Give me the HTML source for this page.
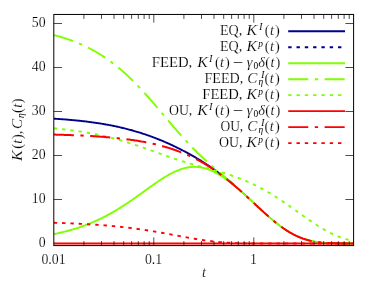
<!DOCTYPE html>
<html><head><meta charset="utf-8"><style>html,body{margin:0;padding:0;background:#fff}svg{display:block;will-change:transform}</style></head><body>
<svg width="380" height="285" viewBox="0 0 380 285">
<rect width="100%" height="100%" fill="#fff"/>
<clipPath id="c"><rect x="53.80" y="14.45" width="299.80" height="231.15"/></clipPath>
<g clip-path="url(#c)" fill="none" stroke-width="1.9">
<path d="M53.80,118.67 L54.70,118.73 L55.59,118.78 L56.49,118.84 L57.38,118.90 L58.28,118.96 L59.18,119.02 L60.07,119.08 L60.97,119.15 L61.87,119.21 L62.76,119.28 L63.66,119.35 L64.55,119.42 L65.45,119.49 L66.35,119.56 L67.24,119.63 L68.14,119.71 L69.04,119.78 L69.93,119.86 L70.83,119.94 L71.72,120.02 L72.62,120.10 L73.52,120.18 L74.41,120.27 L75.31,120.35 L76.20,120.44 L77.10,120.53 L78.00,120.62 L78.89,120.72 L79.79,120.81 L80.69,120.91 L81.58,121.01 L82.48,121.11 L83.37,121.21 L84.27,121.31 L85.17,121.42 L86.06,121.52 L86.96,121.63 L87.86,121.75 L88.75,121.86 L89.65,121.97 L90.54,122.09 L91.44,122.21 L92.34,122.33 L93.23,122.46 L94.13,122.58 L95.03,122.71 L95.92,122.84 L96.82,122.98 L97.71,123.11 L98.61,123.25 L99.51,123.39 L100.40,123.53 L101.30,123.68 L102.19,123.83 L103.09,123.98 L103.99,124.13 L104.88,124.28 L105.78,124.44 L106.68,124.60 L107.57,124.76 L108.47,124.93 L109.36,125.10 L110.26,125.27 L111.16,125.44 L112.05,125.62 L112.95,125.80 L113.85,125.98 L114.74,126.17 L115.64,126.36 L116.53,126.55 L117.43,126.74 L118.33,126.94 L119.22,127.14 L120.12,127.34 L121.01,127.55 L121.91,127.76 L122.81,127.97 L123.70,128.19 L124.60,128.41 L125.50,128.63 L126.39,128.86 L127.29,129.09 L128.18,129.32 L129.08,129.56 L129.98,129.80 L130.87,130.04 L131.77,130.29 L132.67,130.54 L133.56,130.79 L134.46,131.05 L135.35,131.31 L136.25,131.58 L137.15,131.84 L138.04,132.12 L138.94,132.39 L139.83,132.67 L140.73,132.95 L141.63,133.24 L142.52,133.53 L143.42,133.82 L144.32,134.12 L145.21,134.42 L146.11,134.72 L147.00,135.03 L147.90,135.34 L148.80,135.66 L149.69,135.98 L150.59,136.30 L151.49,136.63 L152.38,136.96 L153.28,137.30 L154.17,137.63 L155.07,137.98 L155.97,138.32 L156.86,138.67 L157.76,139.03 L158.65,139.39 L159.55,139.75 L160.45,140.11 L161.34,140.48 L162.24,140.86 L163.14,141.23 L164.03,141.61 L164.93,142.00 L165.82,142.39 L166.72,142.78 L167.62,143.18 L168.51,143.58 L169.41,143.98 L170.31,144.39 L171.20,144.80 L172.10,145.21 L172.99,145.63 L173.89,146.06 L174.79,146.49 L175.68,146.92 L176.58,147.35 L177.48,147.79 L178.37,148.23 L179.27,148.68 L180.16,149.13 L181.06,149.59 L181.96,150.05 L182.85,150.51 L183.75,150.98 L184.64,151.45 L185.54,151.92 L186.44,152.40 L187.33,152.89 L188.23,153.38 L189.13,153.87 L190.02,154.36 L190.92,154.86 L191.81,155.37 L192.71,155.88 L193.61,156.39 L194.50,156.91 L195.40,157.44 L196.30,157.96 L197.19,158.50 L198.09,159.03 L198.98,159.58 L199.88,160.12 L200.78,160.68 L201.67,161.23 L202.57,161.80 L203.46,162.36 L204.36,162.94 L205.26,163.51 L206.15,164.10 L207.05,164.68 L207.95,165.28 L208.84,165.88 L209.74,166.48 L210.63,167.09 L211.53,167.71 L212.43,168.33 L213.32,168.96 L214.22,169.59 L215.12,170.23 L216.01,170.88 L216.91,171.53 L217.80,172.19 L218.70,172.85 L219.60,173.52 L220.49,174.20 L221.39,174.88 L222.28,175.57 L223.18,176.26 L224.08,176.96 L224.97,177.67 L225.87,178.38 L226.77,179.10 L227.66,179.82 L228.56,180.55 L229.45,181.29 L230.35,182.03 L231.25,182.78 L232.14,183.53 L233.04,184.29" stroke="#00008b"/>
<path d="M231.62,183.09 L232.43,183.77 L233.24,184.46 L234.06,185.16 L234.87,185.86 L235.69,186.56 L236.50,187.27 L237.32,187.98 L238.13,188.70 L238.94,189.42 L239.76,190.14 L240.57,190.87 L241.39,191.60 L242.20,192.34 L243.01,193.07 L243.83,193.81 L244.64,194.56 L245.46,195.30 L246.27,196.05 L247.09,196.80 L247.90,197.55 L248.71,198.30 L249.53,199.06 L250.34,199.81 L251.16,200.57 L251.97,201.33 L252.79,202.09 L253.60,202.85 L254.41,203.61 L255.23,204.36 L256.04,205.12 L256.86,205.88 L257.67,206.64 L258.49,207.39 L259.30,208.14 L260.11,208.90 L260.93,209.64 L261.74,210.39 L262.56,211.14 L263.37,211.88 L264.19,212.61 L265.00,213.35 L265.81,214.08 L266.63,214.80 L267.44,215.52 L268.26,216.24 L269.07,216.95 L269.89,217.65 L270.70,218.35 L271.51,219.05 L272.33,219.73 L273.14,220.41 L273.96,221.08 L274.77,221.75 L275.59,222.40 L276.40,223.05 L277.21,223.69 L278.03,224.33 L278.84,224.95 L279.66,225.57 L280.47,226.17 L281.29,226.77 L282.10,227.35 L282.91,227.93 L283.73,228.49 L284.54,229.05 L285.36,229.59 L286.17,230.13 L286.99,230.65 L287.80,231.16 L288.61,231.66 L289.43,232.15 L290.24,232.63 L291.06,233.09 L291.87,233.55 L292.69,233.99 L293.50,234.42 L294.31,234.84 L295.13,235.25 L295.94,235.64 L296.76,236.02 L297.57,236.40 L298.39,236.75 L299.20,237.10 L300.01,237.44 L300.83,237.76 L301.64,238.07 L302.46,238.37 L303.27,238.66 L304.09,238.94 L304.90,239.21 L305.71,239.46 L306.53,239.71 L307.34,239.94 L308.16,240.16 L308.97,240.38 L309.79,240.58 L310.60,240.78 L311.41,240.96 L312.23,241.13 L313.04,241.30 L313.86,241.46 L314.67,241.61 L315.49,241.75 L316.30,241.88 L317.11,242.00 L317.93,242.12 L318.74,242.23 L319.56,242.33 L320.37,242.43 L321.19,242.52 L322.00,242.60 L322.81,242.68 L323.63,242.75 L324.44,242.82 L325.26,242.88 L326.07,242.94 L326.89,242.99 L327.70,243.04 L328.51,243.09 L329.33,243.13 L330.14,243.17 L330.96,243.20 L331.77,243.23 L332.59,243.26 L333.40,243.29 L334.21,243.31 L335.03,243.33 L335.84,243.35 L336.66,243.37 L337.47,243.39 L338.29,243.40 L339.10,243.41 L339.91,243.42 L340.73,243.43 L341.54,243.44 L342.36,243.45 L343.17,243.46 L343.99,243.46 L344.80,243.47 L345.61,243.47 L346.43,243.48 L347.24,243.48 L348.06,243.48 L348.87,243.49 L349.69,243.49 L350.50,243.49 L351.31,243.49 L352.13,243.49 L352.94,243.49 L353.76,243.49" stroke="#00008b" stroke-width="1.2"/>
<path d="M53.80,234.13 L54.70,233.94 L55.59,233.75 L56.49,233.56 L57.38,233.37 L58.28,233.17 L59.18,232.97 L60.07,232.76 L60.97,232.55 L61.87,232.34 L62.76,232.12 L63.66,231.90 L64.55,231.67 L65.45,231.45 L66.35,231.21 L67.24,230.97 L68.14,230.73 L69.04,230.49 L69.93,230.24 L70.83,229.98 L71.72,229.72 L72.62,229.46 L73.52,229.19 L74.41,228.92 L75.31,228.64 L76.20,228.36 L77.10,228.07 L78.00,227.78 L78.89,227.49 L79.79,227.19 L80.69,226.88 L81.58,226.57 L82.48,226.25 L83.37,225.93 L84.27,225.60 L85.17,225.27 L86.06,224.93 L86.96,224.59 L87.86,224.24 L88.75,223.89 L89.65,223.53 L90.54,223.17 L91.44,222.80 L92.34,222.42 L93.23,222.04 L94.13,221.65 L95.03,221.26 L95.92,220.86 L96.82,220.46 L97.71,220.05 L98.61,219.63 L99.51,219.21 L100.40,218.78 L101.30,218.35 L102.19,217.91 L103.09,217.46 L103.99,217.01 L104.88,216.55 L105.78,216.09 L106.68,215.62 L107.57,215.14 L108.47,214.66 L109.36,214.17 L110.26,213.68 L111.16,213.18 L112.05,212.67 L112.95,212.16 L113.85,211.64 L114.74,211.12 L115.64,210.59 L116.53,210.05 L117.43,209.51 L118.33,208.97 L119.22,208.42 L120.12,207.86 L121.01,207.30 L121.91,206.73 L122.81,206.16 L123.70,205.58 L124.60,205.00 L125.50,204.41 L126.39,203.82 L127.29,203.22 L128.18,202.62 L129.08,202.01 L129.98,201.40 L130.87,200.79 L131.77,200.17 L132.67,199.55 L133.56,198.92 L134.46,198.29 L135.35,197.66 L136.25,197.03 L137.15,196.39 L138.04,195.75 L138.94,195.11 L139.83,194.47 L140.73,193.82 L141.63,193.18 L142.52,192.53 L143.42,191.88 L144.32,191.23 L145.21,190.59 L146.11,189.94 L147.00,189.29 L147.90,188.64 L148.80,188.00 L149.69,187.35 L150.59,186.71 L151.49,186.07 L152.38,185.44 L153.28,184.80 L154.17,184.17 L155.07,183.55 L155.97,182.92 L156.86,182.31 L157.76,181.70 L158.65,181.09 L159.55,180.49 L160.45,179.90 L161.34,179.31 L162.24,178.73 L163.14,178.16 L164.03,177.60 L164.93,177.05 L165.82,176.51 L166.72,175.97 L167.62,175.45 L168.51,174.94 L169.41,174.44 L170.31,173.95 L171.20,173.47 L172.10,173.01 L172.99,172.56 L173.89,172.13 L174.79,171.70 L175.68,171.30 L176.58,170.91 L177.48,170.53 L178.37,170.17 L179.27,169.83 L180.16,169.50 L181.06,169.19 L181.96,168.90 L182.85,168.62 L183.75,168.37 L184.64,168.13 L185.54,167.91 L186.44,167.72 L187.33,167.54 L188.23,167.38 L189.13,167.24 L190.02,167.12 L190.92,167.03 L191.81,166.95 L192.71,166.90 L193.61,166.86 L194.50,166.85 L195.40,166.86 L196.30,166.89 L197.19,166.94 L198.09,167.01 L198.98,167.10 L199.88,167.22 L200.78,167.36 L201.67,167.52 L202.57,167.70 L203.46,167.90 L204.36,168.12 L205.26,168.36 L206.15,168.63 L207.05,168.91 L207.95,169.21 L208.84,169.54 L209.74,169.88 L210.63,170.24 L211.53,170.63 L212.43,171.03 L213.32,171.45 L214.22,171.89 L215.12,172.34 L216.01,172.81 L216.91,173.30 L217.80,173.81 L218.70,174.33 L219.60,174.87 L220.49,175.42 L221.39,175.99 L222.28,176.58 L223.18,177.17 L224.08,177.78 L224.97,178.41 L225.87,179.04 L226.77,179.69 L227.66,180.36 L228.56,181.03 L229.45,181.71 L230.35,182.41 L231.25,183.11 L232.14,183.83 L233.04,184.55" stroke="#7fff00"/>
<path d="M231.62,183.40 L232.43,184.06 L233.24,184.72 L234.06,185.38 L234.87,186.06 L235.69,186.74 L236.50,187.43 L237.32,188.12 L238.13,188.82 L238.94,189.53 L239.76,190.24 L240.57,190.95 L241.39,191.67 L242.20,192.40 L243.01,193.13 L243.83,193.86 L244.64,194.59 L245.46,195.33 L246.27,196.08 L247.09,196.82 L247.90,197.57 L248.71,198.32 L249.53,199.07 L250.34,199.83 L251.16,200.58 L251.97,201.34 L252.79,202.10 L253.60,202.85 L254.41,203.61 L255.23,204.37 L256.04,205.13 L256.86,205.88 L257.67,206.64 L258.49,207.39 L259.30,208.15 L260.11,208.90 L260.93,209.65 L261.74,210.39 L262.56,211.14 L263.37,211.88 L264.19,212.61 L265.00,213.35 L265.81,214.08 L266.63,214.80 L267.44,215.52 L268.26,216.24 L269.07,216.95 L269.89,217.65 L270.70,218.35 L271.51,219.05 L272.33,219.73 L273.14,220.41 L273.96,221.08 L274.77,221.75 L275.59,222.40 L276.40,223.05 L277.21,223.69 L278.03,224.33 L278.84,224.95 L279.66,225.57 L280.47,226.17 L281.29,226.77 L282.10,227.35 L282.91,227.93 L283.73,228.49 L284.54,229.05 L285.36,229.59 L286.17,230.13 L286.99,230.65 L287.80,231.16 L288.61,231.66 L289.43,232.15 L290.24,232.63 L291.06,233.09 L291.87,233.55 L292.69,233.99 L293.50,234.42 L294.31,234.84 L295.13,235.25 L295.94,235.64 L296.76,236.02 L297.57,236.40 L298.39,236.75 L299.20,237.10 L300.01,237.44 L300.83,237.76 L301.64,238.07 L302.46,238.37 L303.27,238.66 L304.09,238.94 L304.90,239.21 L305.71,239.46 L306.53,239.71 L307.34,239.94 L308.16,240.16 L308.97,240.38 L309.79,240.58 L310.60,240.78 L311.41,240.96 L312.23,241.13 L313.04,241.30 L313.86,241.46 L314.67,241.61 L315.49,241.75 L316.30,241.88 L317.11,242.00 L317.93,242.12 L318.74,242.23 L319.56,242.33 L320.37,242.43 L321.19,242.52 L322.00,242.60 L322.81,242.68 L323.63,242.75 L324.44,242.82 L325.26,242.88 L326.07,242.94 L326.89,242.99 L327.70,243.04 L328.51,243.09 L329.33,243.13 L330.14,243.17 L330.96,243.20 L331.77,243.23 L332.59,243.26 L333.40,243.29 L334.21,243.31 L335.03,243.33 L335.84,243.35 L336.66,243.37 L337.47,243.39 L338.29,243.40 L339.10,243.41 L339.91,243.42 L340.73,243.43 L341.54,243.44 L342.36,243.45 L343.17,243.46 L343.99,243.46 L344.80,243.47 L345.61,243.47 L346.43,243.48 L347.24,243.48 L348.06,243.48 L348.87,243.49 L349.69,243.49 L350.50,243.49 L351.31,243.49 L352.13,243.49 L352.94,243.49 L353.76,243.49" stroke="#7fff00" stroke-width="1.6"/>
<path d="M53.80,35.06 L54.80,35.32 L55.80,35.58 L56.80,35.85 L57.80,36.12 L58.80,36.40 L59.80,36.69 L60.80,36.98 L61.80,37.28 L62.80,37.58 L63.80,37.89 L64.80,38.20 L65.80,38.53 L66.80,38.85 L67.80,39.19 L68.80,39.53 L69.80,39.88 L70.80,40.24 L71.80,40.60 L72.80,40.97 L73.80,41.35 L74.80,41.74 L75.80,42.13 L76.80,42.53 L77.80,42.94 L78.80,43.36 L79.80,43.78 L80.80,44.22 L81.80,44.66 L82.80,45.11 L83.80,45.57 L84.80,46.04 L85.80,46.51 L86.80,47.00 L87.80,47.49 L88.79,48.00 L89.79,48.51 L90.79,49.03 L91.79,49.57 L92.79,50.11 L93.79,50.66 L94.79,51.22 L95.79,51.79 L96.79,52.37 L97.79,52.97 L98.79,53.57 L99.79,54.18 L100.79,54.81 L101.79,55.44 L102.79,56.09 L103.79,56.74 L104.79,57.41 L105.79,58.09 L106.79,58.77 L107.79,59.47 L108.79,60.19 L109.79,60.91 L110.79,61.64 L111.79,62.39 L112.79,63.14 L113.79,63.91 L114.79,64.69 L115.79,65.48 L116.79,66.29 L117.79,67.10 L118.79,67.93 L119.79,68.76 L120.79,69.61 L121.79,70.47 L122.79,71.35 L123.79,72.23 L124.79,73.12 L125.79,74.03 L126.79,74.95 L127.79,75.88 L128.79,76.82 L129.79,77.77 L130.79,78.73 L131.79,79.71 L132.79,80.69 L133.79,81.69 L134.79,82.69 L135.79,83.71 L136.79,84.73 L137.79,85.77 L138.79,86.81 L139.79,87.87 L140.79,88.93 L141.79,90.01 L142.79,91.09 L143.79,92.18 L144.79,93.28 L145.79,94.38 L146.79,95.50 L147.79,96.62 L148.79,97.75 L149.79,98.88 L150.79,100.03 L151.79,101.17 L152.79,102.33 L153.79,103.48 L154.79,104.65 L155.79,105.81 L156.79,106.99 L157.78,108.16 L158.78,109.34 L159.78,110.52 L160.78,111.70 L161.78,112.89 L162.78,114.07 L163.78,115.26 L164.78,116.44 L165.78,117.63 L166.78,118.82 L167.78,120.00 L168.78,121.18 L169.78,122.36 L170.78,123.54 L171.78,124.72 L172.78,125.89 L173.78,127.06 L174.78,128.22 L175.78,129.38 L176.78,130.53 L177.78,131.68 L178.78,132.82 L179.78,133.95 L180.78,135.08 L181.78,136.20 L182.78,137.31 L183.78,138.42 L184.78,139.52 L185.78,140.60 L186.78,141.68 L187.78,142.76 L188.78,143.82 L189.78,144.87 L190.78,145.92 L191.78,146.95 L192.78,147.97 L193.78,148.99 L194.78,150.00 L195.78,150.99 L196.78,151.98 L197.78,152.96 L198.78,153.93 L199.78,154.89 L200.78,155.84 L201.78,156.78 L202.78,157.72 L203.78,158.65 L204.78,159.56 L205.78,160.48 L206.78,161.38 L207.78,162.28 L208.78,163.17 L209.78,164.06 L210.78,164.94 L211.78,165.81 L212.78,166.68 L213.78,167.55 L214.78,168.42 L215.78,169.28 L216.78,170.13 L217.78,170.99 L218.78,171.84 L219.78,172.70 L220.78,173.55 L221.78,174.40 L222.78,175.25 L223.78,176.11 L224.78,176.96 L225.78,177.82 L226.77,178.67 L227.77,179.53 L228.77,180.39 L229.77,181.26 L230.77,182.13 L231.77,183.00 L232.77,183.87 L233.77,184.75 L234.77,185.63 L235.77,186.51 L236.77,187.40 L237.77,188.29 L238.77,189.19 L239.77,190.09 L240.77,191.00 L241.77,191.90 L242.77,192.81 L243.77,193.73 L244.77,194.65 L245.77,195.57 L246.77,196.49 L247.77,197.42 L248.77,198.34 L249.77,199.27 L250.77,200.20 L251.77,201.14 L252.77,202.07 L253.77,203.00 L254.77,203.93 L255.77,204.87 L256.77,205.80 L257.77,206.73 L258.77,207.65 L259.77,208.58 L260.77,209.50 L261.77,210.42 L262.77,211.33 L263.77,212.24 L264.77,213.14 L265.77,214.04 L266.77,214.93 L267.77,215.81 L268.77,216.69 L269.77,217.55 L270.77,218.41 L271.77,219.26 L272.77,220.10 L273.77,220.93 L274.77,221.74 L275.77,222.55 L276.77,223.34 L277.77,224.13 L278.77,224.89 L279.77,225.65 L280.77,226.39 L281.77,227.11 L282.77,227.82 L283.77,228.52 L284.77,229.20 L285.77,229.86 L286.77,230.51 L287.77,231.14 L288.77,231.75 L289.77,232.35 L290.77,232.93 L291.77,233.49 L292.77,234.03 L293.77,234.56 L294.77,235.07 L295.76,235.56 L296.76,236.03 L297.76,236.48 L298.76,236.92 L299.76,237.34 L300.76,237.74 L301.76,238.12 L302.76,238.48 L303.76,238.83 L304.76,239.16 L305.76,239.48 L306.76,239.78 L307.76,240.06 L308.76,240.32 L309.76,240.58 L310.76,240.81 L311.76,241.04 L312.76,241.24 L313.76,241.44 L314.76,241.62 L315.76,241.79 L316.76,241.95 L317.76,242.10 L318.76,242.23 L319.76,242.36 L320.76,242.47 L321.76,242.58 L322.76,242.68 L323.76,242.76 L324.76,242.85 L325.76,242.92 L326.76,242.99 L327.76,243.05 L328.76,243.10 L329.76,243.15 L330.76,243.19 L331.76,243.23 L332.76,243.27 L333.76,243.30 L334.76,243.33 L335.76,243.35 L336.76,243.37 L337.76,243.39 L338.76,243.41 L339.76,243.42 L340.76,243.43 L341.76,243.44 L342.76,243.45 L343.76,243.46 L344.76,243.47 L345.76,243.47 L346.76,243.48 L347.76,243.48 L348.76,243.49 L349.76,243.49 L350.76,243.49 L351.76,243.49 L352.76,243.49 L353.76,243.49" stroke="#7fff00" stroke-dasharray="20.1 6.5 3.3 6.5"/>
<path d="M53.80,128.37 L54.80,128.46 L55.80,128.55 L56.80,128.65 L57.80,128.75 L58.80,128.85 L59.80,128.95 L60.80,129.05 L61.80,129.16 L62.80,129.27 L63.80,129.38 L64.80,129.49 L65.80,129.61 L66.80,129.72 L67.80,129.84 L68.80,129.97 L69.80,130.09 L70.80,130.22 L71.80,130.35 L72.80,130.48 L73.80,130.61 L74.80,130.75 L75.80,130.89 L76.80,131.03 L77.80,131.18 L78.80,131.33 L79.80,131.48 L80.80,131.63 L81.80,131.79 L82.80,131.95 L83.80,132.11 L84.80,132.27 L85.80,132.44 L86.80,132.61 L87.80,132.79 L88.79,132.96 L89.79,133.15 L90.79,133.33 L91.79,133.52 L92.79,133.71 L93.79,133.90 L94.79,134.10 L95.79,134.30 L96.79,134.50 L97.79,134.70 L98.79,134.91 L99.79,135.13 L100.79,135.34 L101.79,135.56 L102.79,135.79 L103.79,136.02 L104.79,136.25 L105.79,136.48 L106.79,136.72 L107.79,136.96 L108.79,137.20 L109.79,137.45 L110.79,137.70 L111.79,137.96 L112.79,138.22 L113.79,138.48 L114.79,138.75 L115.79,139.02 L116.79,139.29 L117.79,139.56 L118.79,139.84 L119.79,140.13 L120.79,140.41 L121.79,140.70 L122.79,141.00 L123.79,141.29 L124.79,141.59 L125.79,141.90 L126.79,142.20 L127.79,142.51 L128.79,142.83 L129.79,143.14 L130.79,143.46 L131.79,143.78 L132.79,144.11 L133.79,144.43 L134.79,144.76 L135.79,145.09 L136.79,145.43 L137.79,145.77 L138.79,146.11 L139.79,146.45 L140.79,146.79 L141.79,147.14 L142.79,147.49 L143.79,147.83 L144.79,148.19 L145.79,148.54 L146.79,148.89 L147.79,149.25 L148.79,149.60 L149.79,149.96 L150.79,150.32 L151.79,150.68 L152.79,151.04 L153.79,151.40 L154.79,151.76 L155.79,152.12 L156.79,152.48 L157.78,152.84 L158.78,153.20 L159.78,153.56 L160.78,153.92 L161.78,154.28 L162.78,154.64 L163.78,154.99 L164.78,155.35 L165.78,155.70 L166.78,156.05 L167.78,156.41 L168.78,156.75 L169.78,157.10 L170.78,157.45 L171.78,157.79 L172.78,158.13 L173.78,158.47 L174.78,158.81 L175.78,159.14 L176.78,159.47 L177.78,159.80 L178.78,160.13 L179.78,160.45 L180.78,160.77 L181.78,161.09 L182.78,161.40 L183.78,161.72 L184.78,162.02 L185.78,162.33 L186.78,162.63 L187.78,162.93 L188.78,163.23 L189.78,163.53 L190.78,163.82 L191.78,164.11 L192.78,164.40 L193.78,164.68 L194.78,164.96 L195.78,165.24 L196.78,165.52 L197.78,165.80 L198.78,166.07 L199.78,166.35 L200.78,166.62 L201.78,166.89 L202.78,167.16 L203.78,167.43 L204.78,167.69 L205.78,167.96 L206.78,168.23 L207.78,168.50 L208.78,168.76 L209.78,169.03 L210.78,169.30 L211.78,169.57 L212.78,169.84 L213.78,170.12 L214.78,170.39 L215.78,170.67 L216.78,170.95 L217.78,171.23 L218.78,171.51 L219.78,171.80 L220.78,172.09 L221.78,172.38 L222.78,172.68 L223.78,172.98 L224.78,173.28 L225.78,173.59 L226.77,173.90 L227.77,174.22 L228.77,174.54 L229.77,174.87 L230.77,175.20 L231.77,175.54 L232.77,175.88 L233.77,176.23 L234.77,176.59 L235.77,176.95 L236.77,177.31 L237.77,177.68 L238.77,178.06 L239.77,178.45 L240.77,178.84 L241.77,179.23 L242.77,179.64 L243.77,180.05 L244.77,180.46 L245.77,180.89 L246.77,181.32 L247.77,181.75 L248.77,182.20 L249.77,182.65 L250.77,183.11 L251.77,183.57 L252.77,184.05 L253.77,184.53 L254.77,185.01 L255.77,185.51 L256.77,186.01 L257.77,186.52 L258.77,187.03 L259.77,187.55 L260.77,188.08 L261.77,188.62 L262.77,189.16 L263.77,189.71 L264.77,190.27 L265.77,190.84 L266.77,191.41 L267.77,191.99 L268.77,192.57 L269.77,193.17 L270.77,193.77 L271.77,194.37 L272.77,194.98 L273.77,195.60 L274.77,196.23 L275.77,196.86 L276.77,197.50 L277.77,198.14 L278.77,198.79 L279.77,199.44 L280.77,200.10 L281.77,200.76 L282.77,201.43 L283.77,202.11 L284.77,202.79 L285.77,203.47 L286.77,204.16 L287.77,204.85 L288.77,205.54 L289.77,206.24 L290.77,206.94 L291.77,207.64 L292.77,208.35 L293.77,209.06 L294.77,209.76 L295.76,210.48 L296.76,211.19 L297.76,211.90 L298.76,212.61 L299.76,213.33 L300.76,214.04 L301.76,214.75 L302.76,215.46 L303.76,216.17 L304.76,216.88 L305.76,217.58 L306.76,218.28 L307.76,218.98 L308.76,219.67 L309.76,220.36 L310.76,221.05 L311.76,221.73 L312.76,222.40 L313.76,223.07 L314.76,223.74 L315.76,224.39 L316.76,225.04 L317.76,225.68 L318.76,226.31 L319.76,226.94 L320.76,227.55 L321.76,228.16 L322.76,228.76 L323.76,229.34 L324.76,229.92 L325.76,230.48 L326.76,231.04 L327.76,231.58 L328.76,232.11 L329.76,232.63 L330.76,233.13 L331.76,233.63 L332.76,234.11 L333.76,234.58 L334.76,235.03 L335.76,235.47 L336.76,235.90 L337.76,236.31 L338.76,236.71 L339.76,237.10 L340.76,237.47 L341.76,237.83 L342.76,238.18 L343.76,238.51 L344.76,238.83 L345.76,239.13 L346.76,239.42 L347.76,239.70 L348.76,239.96 L349.76,240.22 L350.76,240.45 L351.76,240.68 L352.76,240.90 L353.76,241.10" stroke="#7fff00" stroke-dasharray="3.4 4.9"/>
<path d="M53.80,243.50 L54.80,243.50 L55.80,243.50 L56.80,243.50 L57.80,243.50 L58.80,243.50 L59.80,243.50 L60.80,243.50 L61.80,243.50 L62.80,243.50 L63.80,243.50 L64.80,243.50 L65.80,243.50 L66.80,243.50 L67.80,243.50 L68.80,243.50 L69.80,243.50 L70.80,243.50 L71.80,243.50 L72.80,243.50 L73.80,243.50 L74.80,243.50 L75.80,243.50 L76.80,243.50 L77.80,243.50 L78.80,243.50 L79.80,243.50 L80.80,243.50 L81.80,243.50 L82.80,243.50 L83.80,243.50 L84.80,243.50 L85.80,243.50 L86.80,243.50 L87.80,243.50 L88.79,243.50 L89.79,243.50 L90.79,243.50 L91.79,243.50 L92.79,243.50 L93.79,243.50 L94.79,243.50 L95.79,243.50 L96.79,243.50 L97.79,243.50 L98.79,243.50 L99.79,243.50 L100.79,243.50 L101.79,243.50 L102.79,243.50 L103.79,243.50 L104.79,243.50 L105.79,243.50 L106.79,243.50 L107.79,243.50 L108.79,243.50 L109.79,243.50 L110.79,243.50 L111.79,243.50 L112.79,243.50 L113.79,243.50 L114.79,243.50 L115.79,243.50 L116.79,243.50 L117.79,243.50 L118.79,243.50 L119.79,243.50 L120.79,243.50 L121.79,243.50 L122.79,243.50 L123.79,243.50 L124.79,243.50 L125.79,243.50 L126.79,243.50 L127.79,243.50 L128.79,243.50 L129.79,243.50 L130.79,243.50 L131.79,243.50 L132.79,243.50 L133.79,243.50 L134.79,243.50 L135.79,243.50 L136.79,243.50 L137.79,243.50 L138.79,243.50 L139.79,243.50 L140.79,243.50 L141.79,243.50 L142.79,243.50 L143.79,243.50 L144.79,243.50 L145.79,243.50 L146.79,243.50 L147.79,243.50 L148.79,243.50 L149.79,243.50 L150.79,243.50 L151.79,243.50 L152.79,243.50 L153.79,243.50 L154.79,243.50 L155.79,243.50 L156.79,243.50 L157.78,243.50 L158.78,243.50 L159.78,243.50 L160.78,243.50 L161.78,243.50 L162.78,243.50 L163.78,243.50 L164.78,243.50 L165.78,243.50 L166.78,243.50 L167.78,243.50 L168.78,243.50 L169.78,243.50 L170.78,243.50 L171.78,243.50 L172.78,243.50 L173.78,243.50 L174.78,243.50 L175.78,243.50 L176.78,243.50 L177.78,243.50 L178.78,243.50 L179.78,243.50 L180.78,243.50 L181.78,243.50 L182.78,243.50 L183.78,243.50 L184.78,243.50 L185.78,243.50 L186.78,243.50 L187.78,243.50 L188.78,243.50 L189.78,243.50 L190.78,243.50 L191.78,243.50 L192.78,243.50 L193.78,243.50 L194.78,243.50 L195.78,243.50 L196.78,243.50 L197.78,243.50 L198.78,243.50 L199.78,243.50 L200.78,243.50 L201.78,243.50 L202.78,243.50 L203.78,243.50 L204.78,243.50 L205.78,243.50 L206.78,243.50 L207.78,243.50 L208.78,243.50 L209.78,243.50 L210.78,243.50 L211.78,243.50 L212.78,243.50 L213.78,243.50 L214.78,243.50 L215.78,243.50 L216.78,243.50 L217.78,243.50 L218.78,243.50 L219.78,243.50 L220.78,243.50 L221.78,243.50 L222.78,243.50 L223.78,243.50 L224.78,243.50 L225.78,243.50 L226.77,243.50 L227.77,243.50 L228.77,243.50 L229.77,243.50 L230.77,243.50 L231.77,243.50 L232.77,243.50 L233.77,243.50 L234.77,243.50 L235.77,243.50 L236.77,243.50 L237.77,243.50 L238.77,243.50 L239.77,243.50 L240.77,243.50 L241.77,243.50 L242.77,243.50 L243.77,243.50 L244.77,243.50 L245.77,243.50 L246.77,243.50 L247.77,243.50 L248.77,243.50 L249.77,243.50 L250.77,243.50 L251.77,243.50 L252.77,243.50 L253.77,243.50 L254.77,243.50 L255.77,243.50 L256.77,243.50 L257.77,243.50 L258.77,243.50 L259.77,243.50 L260.77,243.50 L261.77,243.50 L262.77,243.50 L263.77,243.50 L264.77,243.50 L265.77,243.50 L266.77,243.50 L267.77,243.50 L268.77,243.50 L269.77,243.50 L270.77,243.50 L271.77,243.50 L272.77,243.50 L273.77,243.50 L274.77,243.50 L275.77,243.50 L276.77,243.50 L277.77,243.50 L278.77,243.50 L279.77,243.50 L280.77,243.50 L281.77,243.50 L282.77,243.50 L283.77,243.50 L284.77,243.50 L285.77,243.50 L286.77,243.50 L287.77,243.50 L288.77,243.50 L289.77,243.50 L290.77,243.50 L291.77,243.50 L292.77,243.50 L293.77,243.50 L294.77,243.50 L295.76,243.50 L296.76,243.50 L297.76,243.50 L298.76,243.50 L299.76,243.50 L300.76,243.50 L301.76,243.50 L302.76,243.50 L303.76,243.50 L304.76,243.50 L305.76,243.50 L306.76,243.50 L307.76,243.50 L308.76,243.50 L309.76,243.50 L310.76,243.50 L311.76,243.50 L312.76,243.50 L313.76,243.50 L314.76,243.50 L315.76,243.50 L316.76,243.50 L317.76,243.50 L318.76,243.50 L319.76,243.50 L320.76,243.50 L321.76,243.50 L322.76,243.50 L323.76,243.50 L324.76,243.50 L325.76,243.50 L326.76,243.50 L327.76,243.50 L328.76,243.50 L329.76,243.50 L330.76,243.50 L331.76,243.50 L332.76,243.50 L333.76,243.50 L334.76,243.50 L335.76,243.50 L336.76,243.50 L337.76,243.50 L338.76,243.50 L339.76,243.50 L340.76,243.50 L341.76,243.50 L342.76,243.50 L343.76,243.50 L344.76,243.50 L345.76,243.50 L346.76,243.50 L347.76,243.50 L348.76,243.50 L349.76,243.50 L350.76,243.50 L351.76,243.50 L352.76,243.50 L353.76,243.50" stroke="#ff0000"/>
<path d="M53.80,134.59 L55.00,134.62 L56.19,134.66 L57.39,134.69 L58.58,134.72 L59.78,134.76 L60.97,134.79 L62.17,134.83 L63.36,134.86 L64.56,134.90 L65.75,134.94 L66.95,134.98 L68.15,135.02 L69.34,135.06 L70.54,135.11 L71.73,135.15 L72.93,135.20 L74.12,135.24 L75.32,135.29 L76.51,135.34 L77.71,135.39 L78.90,135.44 L80.10,135.50 L81.30,135.55 L82.49,135.61 L83.69,135.67 L84.88,135.73 L86.08,135.79 L87.27,135.85 L88.47,135.92 L89.66,135.98 L90.86,136.05 L92.05,136.12 L93.25,136.19 L94.45,136.27 L95.64,136.35 L96.84,136.42 L98.03,136.50 L99.23,136.59 L100.42,136.67 L101.62,136.76 L102.81,136.85 L104.01,136.94 L105.20,137.03 L106.40,137.13 L107.60,137.23 L108.79,137.33 L109.99,137.44 L111.18,137.55 L112.38,137.66 L113.57,137.77 L114.77,137.89 L115.96,138.01 L117.16,138.13 L118.35,138.26 L119.55,138.39 L120.75,138.52 L121.94,138.66 L123.14,138.80 L124.33,138.94 L125.53,139.09 L126.72,139.24 L127.92,139.40 L129.11,139.56 L130.31,139.72 L131.50,139.89 L132.70,140.06 L133.90,140.24 L135.09,140.42 L136.29,140.61 L137.48,140.80 L138.68,141.00 L139.87,141.20 L141.07,141.41 L142.26,141.62 L143.46,141.84 L144.65,142.06 L145.85,142.29 L147.05,142.52 L148.24,142.76 L149.44,143.01 L150.63,143.27 L151.83,143.52 L153.02,143.79 L154.22,144.06 L155.41,144.34 L156.61,144.63 L157.80,144.92 L159.00,145.23 L160.20,145.53 L161.39,145.85 L162.59,146.17 L163.78,146.51 L164.98,146.85 L166.17,147.20 L167.37,147.55 L168.56,147.92 L169.76,148.29 L170.95,148.67 L172.15,149.07 L173.35,149.47 L174.54,149.88 L175.74,150.30 L176.93,150.73 L178.13,151.17 L179.32,151.62 L180.52,152.08 L181.71,152.55 L182.91,153.03 L184.10,153.52 L185.30,154.03 L186.50,154.54 L187.69,155.07 L188.89,155.60 L190.08,156.15 L191.28,156.71 L192.47,157.28 L193.67,157.87 L194.86,158.46 L196.06,159.07 L197.25,159.69 L198.45,160.33 L199.65,160.97 L200.84,161.63 L202.04,162.31 L203.23,162.99 L204.43,163.69 L205.62,164.40 L206.82,165.13 L208.01,165.86 L209.21,166.61 L210.40,167.38 L211.60,168.16 L212.80,168.95 L213.99,169.75 L215.19,170.57 L216.38,171.40 L217.58,172.25 L218.77,173.11 L219.97,173.98 L221.16,174.86 L222.36,175.76 L223.55,176.67 L224.75,177.60 L225.95,178.53 L227.14,179.48 L228.34,180.44 L229.53,181.41 L230.73,182.39 L231.92,183.39 L233.12,184.39 L234.31,185.41 L235.51,186.43 L236.70,187.47 L237.90,188.52 L239.10,189.57 L240.29,190.63 L241.49,191.70 L242.68,192.78 L243.88,193.86 L245.07,194.95 L246.27,196.05 L247.46,197.15 L248.66,198.25 L249.85,199.36 L251.05,200.47 L252.25,201.58 L253.44,202.70 L254.64,203.81 L255.83,204.93 L257.03,206.04 L258.22,207.15 L259.42,208.25 L260.61,209.35 L261.81,210.45 L263.00,211.54 L264.20,212.63 L265.40,213.70 L266.59,214.77 L267.79,215.82 L268.98,216.87 L270.18,217.90 L271.37,218.92 L272.57,219.93 L273.76,220.92 L274.96,221.90 L276.15,222.86 L277.35,223.80 L278.55,224.72 L279.74,225.63 L280.94,226.51 L282.13,227.37 L283.33,228.22 L284.52,229.03 L285.72,229.83 L286.91,230.60 L288.11,231.35 L289.30,232.08 L290.50,232.78 L291.70,233.45 L292.89,234.10 M292.89,234.10 L293.50,234.42 L294.11,234.74 L294.72,235.04 L295.33,235.34 L295.93,235.64 L296.54,235.92 L297.15,236.21 L297.76,236.48 L298.37,236.75 L298.98,237.01 L299.59,237.26 L300.19,237.51 L300.80,237.75 L301.41,237.99 L302.02,238.21 L302.63,238.44 L303.24,238.65 L303.85,238.86 L304.46,239.06 L305.06,239.26 L305.67,239.45 L306.28,239.63 L306.89,239.81 L307.50,239.98 L308.11,240.15 L308.72,240.31 L309.32,240.47 L309.93,240.62 L310.54,240.76 L311.15,240.90 L311.76,241.04 L312.37,241.16 L312.98,241.29 L313.58,241.41 L314.19,241.52 L314.80,241.63 L315.41,241.73 L316.02,241.83 L316.63,241.93 L317.24,242.02 L317.85,242.11 L318.45,242.19 L319.06,242.27 L319.67,242.35 L320.28,242.42 L320.89,242.49 L321.50,242.55 L322.11,242.61 L322.71,242.67 L323.32,242.73 L323.93,242.78 L324.54,242.83 L325.15,242.87 L325.76,242.92 L326.37,242.96 L326.98,243.00 L327.58,243.04 L328.19,243.07 L328.80,243.10 L329.41,243.13 L330.02,243.16 L330.63,243.19 L331.24,243.21 L331.84,243.24 L332.45,243.26 L333.06,243.28 L333.67,243.30 L334.28,243.31 L334.89,243.33 L335.50,243.34 L336.11,243.36 L336.71,243.37 L337.32,243.38 L337.93,243.39 L338.54,243.40 L339.15,243.41 L339.76,243.42 L340.37,243.43 L340.97,243.44 L341.58,243.44 L342.19,243.45 L342.80,243.45 L343.41,243.46 L344.02,243.46 L344.63,243.47 L345.24,243.47 L345.84,243.47 L346.45,243.48 L347.06,243.48 L347.67,243.48 L348.28,243.48 L348.89,243.49 L349.50,243.49 L350.10,243.49 L350.71,243.49 L351.32,243.49 L351.93,243.49 L352.54,243.49 L353.15,243.49 L353.76,243.49" stroke="#ff0000" stroke-width="2.0" stroke-dasharray="20.1 6.5 3.3 6.5"/>
<path d="M53.80,222.78 L54.80,222.81 L55.80,222.84 L56.80,222.87 L57.80,222.90 L58.80,222.93 L59.80,222.96 L60.80,223.00 L61.80,223.03 L62.80,223.07 L63.80,223.10 L64.80,223.14 L65.80,223.17 L66.80,223.21 L67.80,223.25 L68.80,223.29 L69.80,223.33 L70.80,223.37 L71.80,223.41 L72.80,223.45 L73.80,223.50 L74.80,223.54 L75.80,223.58 L76.80,223.63 L77.80,223.68 L78.80,223.73 L79.80,223.78 L80.80,223.83 L81.80,223.88 L82.80,223.93 L83.80,223.98 L84.80,224.04 L85.80,224.09 L86.80,224.15 L87.80,224.21 L88.79,224.26 L89.79,224.33 L90.79,224.39 L91.79,224.45 L92.79,224.51 L93.79,224.58 L94.79,224.64 L95.79,224.71 L96.79,224.78 L97.79,224.85 L98.79,224.92 L99.79,225.00 L100.79,225.07 L101.79,225.15 L102.79,225.22 L103.79,225.30 L104.79,225.38 L105.79,225.46 L106.79,225.55 L107.79,225.63 L108.79,225.72 L109.79,225.81 L110.79,225.90 L111.79,225.99 L112.79,226.08 L113.79,226.17 L114.79,226.27 L115.79,226.37 L116.79,226.47 L117.79,226.57 L118.79,226.67 L119.79,226.78 L120.79,226.88 L121.79,226.99 L122.79,227.10 L123.79,227.21 L124.79,227.33 L125.79,227.44 L126.79,227.56 L127.79,227.68 L128.79,227.80 L129.79,227.92 L130.79,228.05 L131.79,228.17 L132.79,228.30 L133.79,228.43 L134.79,228.56 L135.79,228.70 L136.79,228.83 L137.79,228.97 L138.79,229.11 L139.79,229.25 L140.79,229.40 L141.79,229.54 L142.79,229.69 L143.79,229.84 L144.79,229.99 L145.79,230.14 L146.79,230.30 L147.79,230.45 L148.79,230.61 L149.79,230.77 L150.79,230.93 L151.79,231.09 L152.79,231.26 L153.79,231.42 L154.79,231.59 L155.79,231.76 L156.79,231.93 L157.78,232.10 L158.78,232.28 L159.78,232.45 L160.78,232.63 L161.78,232.80 L162.78,232.98 L163.78,233.16 L164.78,233.34 L165.78,233.52 L166.78,233.70 L167.78,233.89 L168.78,234.07 L169.78,234.25 L170.78,234.44 L171.78,234.62 L172.78,234.81 L173.78,235.00 L174.78,235.18 L175.78,235.37 L176.78,235.56 L177.78,235.74 L178.78,235.93 L179.78,236.11 L180.78,236.30 L181.78,236.48 L182.78,236.67 L183.78,236.85 L184.78,237.03 L185.78,237.22 L186.78,237.40 L187.78,237.58 L188.78,237.75 L189.78,237.93 L190.78,238.11 L191.78,238.28 L192.78,238.45 L193.78,238.62 L194.78,238.79 L195.78,238.96 L196.78,239.12 L197.78,239.28 L198.78,239.44 L199.78,239.60 L200.78,239.75 L201.78,239.90 L202.78,240.05 L203.78,240.20 L204.78,240.34 L205.78,240.48 L206.78,240.62 L207.78,240.75 L208.78,240.88 L209.78,241.01 L210.78,241.13 L211.78,241.25 L212.78,241.37 L213.78,241.48 L214.78,241.59 L215.78,241.69 L216.78,241.80 L217.78,241.89 L218.78,241.99 L219.78,242.08 L220.78,242.17 L221.78,242.25 L222.78,242.33 L223.78,242.41 L224.78,242.48 L225.78,242.55 L226.77,242.62 L227.77,242.68 L228.77,242.74 L229.77,242.80 L230.77,242.86 L231.77,242.91 L232.77,242.95 L233.77,243.00 L234.77,243.04 L235.77,243.08 L236.77,243.12 L237.77,243.15 L238.77,243.18 L239.77,243.21 L240.77,243.24 L241.77,243.27 L242.77,243.29 L243.77,243.31 L244.77,243.33 L245.77,243.35 L246.77,243.37 L247.77,243.38 L248.77,243.39 L249.77,243.41 L250.77,243.42 L251.77,243.43 L252.77,243.44 L253.77,243.45 L254.77,243.45 L255.77,243.46 L256.77,243.46 L257.77,243.47 L258.77,243.47 L259.77,243.48 L260.77,243.48 L261.77,243.48 L262.77,243.49 L263.77,243.49 L264.77,243.49 L265.77,243.49 L266.77,243.49 L267.77,243.49 L268.77,243.50 L269.77,243.50 L270.77,243.50 L271.77,243.50 L272.77,243.50 L273.77,243.50 L274.77,243.50 L275.77,243.50 L276.77,243.50 L277.77,243.50 L278.77,243.50 L279.77,243.50 L280.77,243.50 L281.77,243.50 L282.77,243.50 L283.77,243.50 L284.77,243.50 L285.77,243.50 L286.77,243.50 L287.77,243.50 L288.77,243.50 L289.77,243.50 L290.77,243.50 L291.77,243.50 L292.77,243.50 L293.77,243.50 L294.77,243.50 L295.76,243.50 L296.76,243.50 L297.76,243.50 L298.76,243.50 L299.76,243.50 L300.76,243.50 L301.76,243.50 L302.76,243.50 L303.76,243.50 L304.76,243.50 L305.76,243.50 L306.76,243.50 L307.76,243.50 L308.76,243.50 L309.76,243.50 L310.76,243.50 L311.76,243.50 L312.76,243.50 L313.76,243.50 L314.76,243.50 L315.76,243.50 L316.76,243.50 L317.76,243.50 L318.76,243.50 L319.76,243.50 L320.76,243.50 L321.76,243.50 L322.76,243.50 L323.76,243.50 L324.76,243.50 L325.76,243.50 L326.76,243.50 L327.76,243.50 L328.76,243.50 L329.76,243.50 L330.76,243.50 L331.76,243.50 L332.76,243.50 L333.76,243.50 L334.76,243.50 L335.76,243.50 L336.76,243.50 L337.76,243.50 L338.76,243.50 L339.76,243.50 L340.76,243.50 L341.76,243.50 L342.76,243.50 L343.76,243.50 L344.76,243.50 L345.76,243.50 L346.76,243.50 L347.76,243.50 L348.76,243.50 L349.76,243.50 L350.76,243.50 L351.76,243.50 L352.76,243.50 L353.76,243.50" stroke="#ff0000" stroke-dasharray="3.4 4.9"/>
</g>
<path d="M288.2,31.25 H345" stroke="#00008b" stroke-width="1.9" fill="none"/>
<path d="M288.2,47.23 H345" stroke="#00008b" stroke-width="1.9" fill="none" stroke-dasharray="3.4 4.9"/>
<path d="M288.2,63.21 H345" stroke="#7fff00" stroke-width="1.9" fill="none"/>
<path d="M288.2,79.19 H345" stroke="#7fff00" stroke-width="1.9" fill="none" stroke-dasharray="20.1 6.5 3.3 6.5"/>
<path d="M288.2,95.17 H345" stroke="#7fff00" stroke-width="1.9" fill="none" stroke-dasharray="3.4 4.9"/>
<path d="M288.2,111.15 H345" stroke="#ff0000" stroke-width="1.9" fill="none"/>
<path d="M288.2,127.13 H345" stroke="#ff0000" stroke-width="1.9" fill="none" stroke-dasharray="20.1 6.5 3.3 6.5"/>
<path d="M288.2,143.11 H345" stroke="#ff0000" stroke-width="1.9" fill="none" stroke-dasharray="3.4 4.9"/>
<path d="M53.80,199.50 h8.2 M353.60,199.50 h-8.2 M53.80,155.50 h8.2 M353.60,155.50 h-8.2 M53.80,111.50 h8.2 M353.60,111.50 h-8.2 M53.80,67.50 h8.2 M353.60,67.50 h-8.2 M53.80,23.50 h8.2 M353.60,23.50 h-8.2 M83.90,245.60 v-4.5 M83.90,14.45 v4.5 M101.51,245.60 v-4.5 M101.51,14.45 v4.5 M114.01,245.60 v-4.5 M114.01,14.45 v4.5 M123.70,245.60 v-4.5 M123.70,14.45 v4.5 M131.62,245.60 v-4.5 M131.62,14.45 v4.5 M138.31,245.60 v-4.5 M138.31,14.45 v4.5 M144.11,245.60 v-4.5 M144.11,14.45 v4.5 M149.22,245.60 v-4.5 M149.22,14.45 v4.5 M153.80,245.60 v-8.2 M153.80,14.45 v8.2 M183.90,245.60 v-4.5 M183.90,14.45 v4.5 M201.51,245.60 v-4.5 M201.51,14.45 v4.5 M214.01,245.60 v-4.5 M214.01,14.45 v4.5 M223.70,245.60 v-4.5 M223.70,14.45 v4.5 M231.62,245.60 v-4.5 M231.62,14.45 v4.5 M238.31,245.60 v-4.5 M238.31,14.45 v4.5 M244.11,245.60 v-4.5 M244.11,14.45 v4.5 M249.22,245.60 v-4.5 M249.22,14.45 v4.5 M253.80,245.60 v-8.2 M253.80,14.45 v8.2 M283.90,245.60 v-4.5 M283.90,14.45 v4.5 M301.51,245.60 v-4.5 M301.51,14.45 v4.5 M314.01,245.60 v-4.5 M314.01,14.45 v4.5 M323.70,245.60 v-4.5 M323.70,14.45 v4.5 M331.62,245.60 v-4.5 M331.62,14.45 v4.5 M338.31,245.60 v-4.5 M338.31,14.45 v4.5 M344.11,245.60 v-4.5 M344.11,14.45 v4.5 M349.22,245.60 v-4.5 M349.22,14.45 v4.5" stroke="#000" stroke-width="0.7" fill="none"/>
<rect x="53.80" y="14.45" width="299.80" height="231.15" fill="none" stroke="#000" stroke-width="1"/>
<g style="font-family:'Liberation Serif',serif" font-size="14.4" fill="#000" stroke="#fff" stroke-width="0.15">
<text x="45.6" y="247.40" text-anchor="end" font-size="13.8">0</text>
<text x="45.6" y="203.40" text-anchor="end" font-size="13.8">10</text>
<text x="45.6" y="159.40" text-anchor="end" font-size="13.8">20</text>
<text x="45.6" y="115.40" text-anchor="end" font-size="13.8">30</text>
<text x="45.6" y="71.40" text-anchor="end" font-size="13.8">40</text>
<text x="45.6" y="27.40" text-anchor="end" font-size="13.8">50</text>
<text x="53.50" y="264.3" text-anchor="middle" font-size="13.8">0.01</text>
<text x="153.50" y="264.3" text-anchor="middle" font-size="13.8">0.1</text>
<text x="253.50" y="264.3" text-anchor="middle" font-size="13.8">1</text>
<text x="203.9" y="276.8" text-anchor="middle" font-style="italic">t</text>
<text transform="translate(219.89,35.15) scale(0.9826,1)">EQ,</text>
<text transform="translate(246.57,35.15) scale(1.1,1)" font-style="italic">K</text>
<text x="259.27" y="30.25" font-style="italic" font-size="9.4" stroke="none">I</text>
<text x="264.72" y="35.15">(</text>
<text x="269.94" y="35.15" font-style="italic">t</text>
<text x="274.89" y="35.15">)</text>
<text transform="translate(219.89,51.13) scale(0.9826,1)">EQ,</text>
<text transform="translate(246.57,51.13) scale(1.1,1)" font-style="italic">K</text>
<text x="258.37" y="46.83" font-style="italic" font-size="9.4" stroke="none">p</text>
<text x="264.72" y="51.13">(</text>
<text x="269.94" y="51.13" font-style="italic">t</text>
<text x="274.89" y="51.13">)</text>
<text transform="translate(151.78,67.11) scale(1.0241,1)">FEED,</text>
<text transform="translate(197.32,67.11) scale(1.1,1)" font-style="italic">K</text>
<text x="209.37" y="62.21" font-style="italic" font-size="9.4" stroke="none">I</text>
<text x="214.97" y="67.11">(</text>
<text x="219.99" y="67.11" font-style="italic">t</text>
<text x="224.94" y="67.11">)</text>
<text transform="translate(232.41,67.11) scale(1.3,1)">−</text>
<text x="246.67" y="67.11" font-style="italic">γ</text>
<text x="253.60" y="68.61" font-size="9.4" stroke="none">0</text>
<text x="258.30" y="67.11" font-style="italic">δ</text>
<text x="265.37" y="67.11">(</text>
<text x="270.49" y="67.11" font-style="italic">t</text>
<text x="275.44" y="67.11">)</text>
<text transform="translate(204.49,83.09) scale(0.9797,1)">FEED,</text>
<text transform="translate(247.27,83.09) scale(1.05,1)" font-style="italic">C</text>
<text x="261.17" y="77.99" font-style="italic" font-size="9.4" stroke="none">I</text>
<text x="258.60" y="84.89" font-style="italic" font-size="9.4" stroke="none">η</text>
<text x="264.62" y="83.09">(</text>
<text x="269.64" y="83.09" font-style="italic">t</text>
<text x="274.89" y="83.09">)</text>
<text transform="translate(202.28,99.07) scale(1.0162,1)">FEED,</text>
<text transform="translate(246.57,99.07) scale(1.1,1)" font-style="italic">K</text>
<text x="258.37" y="94.77" font-style="italic" font-size="9.4" stroke="none">p</text>
<text x="264.72" y="99.07">(</text>
<text x="269.94" y="99.07" font-style="italic">t</text>
<text x="274.89" y="99.07">)</text>
<text transform="translate(168.94,115.05) scale(0.9563,1)">OU,</text>
<text transform="translate(197.32,115.05) scale(1.1,1)" font-style="italic">K</text>
<text x="209.37" y="110.15" font-style="italic" font-size="9.4" stroke="none">I</text>
<text x="214.97" y="115.05">(</text>
<text x="219.99" y="115.05" font-style="italic">t</text>
<text x="224.94" y="115.05">)</text>
<text transform="translate(232.41,115.05) scale(1.3,1)">−</text>
<text x="246.67" y="115.05" font-style="italic">γ</text>
<text x="253.60" y="116.55" font-size="9.4" stroke="none">0</text>
<text x="258.30" y="115.05" font-style="italic">δ</text>
<text x="265.37" y="115.05">(</text>
<text x="270.49" y="115.05" font-style="italic">t</text>
<text x="275.44" y="115.05">)</text>
<text transform="translate(220.45,131.03) scale(0.9345,1)">OU,</text>
<text transform="translate(247.27,131.03) scale(1.05,1)" font-style="italic">C</text>
<text x="261.17" y="125.93" font-style="italic" font-size="9.4" stroke="none">I</text>
<text x="258.60" y="132.83" font-style="italic" font-size="9.4" stroke="none">η</text>
<text x="264.62" y="131.03">(</text>
<text x="269.64" y="131.03" font-style="italic">t</text>
<text x="274.89" y="131.03">)</text>
<text transform="translate(218.93,147.01) scale(0.9607,1)">OU,</text>
<text transform="translate(246.57,147.01) scale(1.1,1)" font-style="italic">K</text>
<text x="258.37" y="142.71" font-style="italic" font-size="9.4" stroke="none">p</text>
<text x="264.72" y="147.01">(</text>
<text x="269.94" y="147.01" font-style="italic">t</text>
<text x="274.89" y="147.01">)</text>
<g transform="translate(22.1,0) rotate(-90)">
<text transform="translate(-161.03,0.00) scale(1.12,1)" font-style="italic">K</text>
<text x="-148.78" y="0.00">(</text>
<text x="-143.76" y="0.00" font-style="italic">t</text>
<text x="-138.96" y="0.00">)</text>
<text x="-134.22" y="0.00">,</text>
<text transform="translate(-128.88,0.00) scale(1.05,1)" font-style="italic">C</text>
<text x="-118.05" y="1.60" font-style="italic" font-size="9.4" stroke="none">η</text>
<text x="-112.88" y="0.00">(</text>
<text x="-107.86" y="0.00" font-style="italic">t</text>
<text x="-103.21" y="0.00">)</text>
</g>
</g>
</svg>
</body></html>
